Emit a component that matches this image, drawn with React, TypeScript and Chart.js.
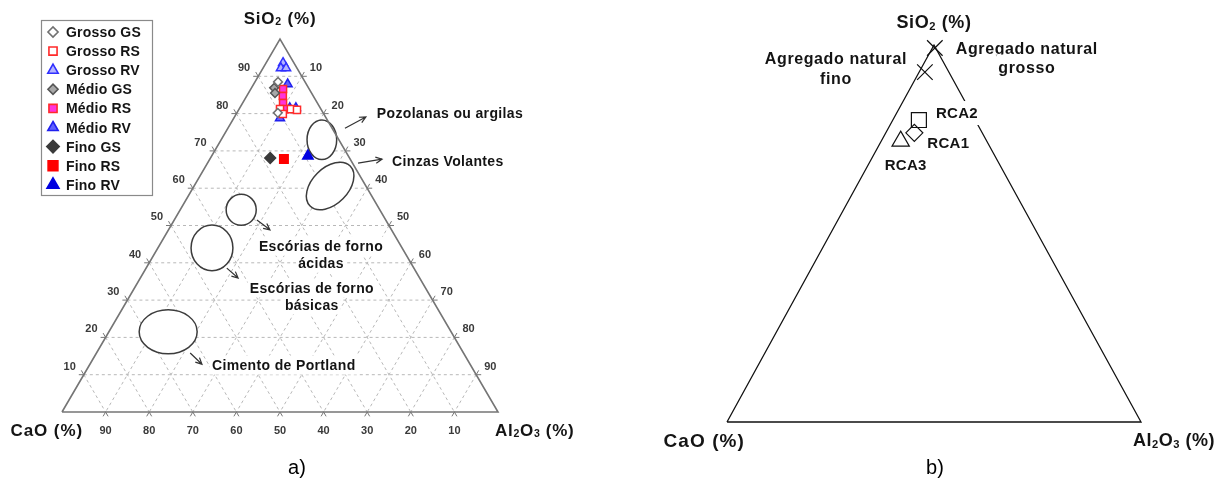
import React, { useEffect, useRef } from "react";
import { Chart, registerables } from "chart.js";
import { drawPoint } from "chart.js/helpers";

Chart.register(...registerables);

type Comp = [number, number, number]; // [SiO2, CaO, Al2O3] in %

// ================= a) =================
const tickValues = [10, 20, 30, 40, 50, 60, 70, 80, 90];
const outline: Comp[] = [[0, 100, 0], [0, 0, 100], [100, 0, 0], [0, 100, 0]];

const seriesNamesA = ["Grosso GS", "Grosso RS", "Grosso RV", "Médio GS", "Médio RS", "Médio RV", "Fino GS", "Fino RS", "Fino RV"];
const grossoGS: Comp[] = [[88.5, 6.2, 5.3], [80.2, 10.4, 9.4]];
const grossoRS: Comp[] = [[81.2, 9.4, 9.4], [81.2, 6.9, 11.9], [81.0, 5.6, 13.4], [79.9, 9.4, 10.7]];
const grossoRV: Comp[] = [[93.6, 2.5, 3.9], [92.2, 3.7, 4.1], [92.2, 2.5, 5.3]];
const medioGS: Comp[] = [[86.9, 7.9, 5.2], [85.5, 8.4, 6.1]];
const medioRS: Comp[] = [[86.6, 6.0, 7.4], [84.7, 7.0, 8.3], [82.8, 7.9, 9.3], [81.2, 8.3, 10.5]];
const medioRV: Comp[] = [[87.9, 4.3, 7.8], [81.5, 7.0, 11.5], [81.5, 5.6, 12.9], [78.8, 10.6, 10.6]];
const finoGS: Comp[] = [[68.1, 18.2, 13.7]];
const finoRS: Comp[] = [[67.8, 15.2, 17.0]];
const finoRV: Comp[] = [[68.6, 9.3, 22.1]];
const seriesDataA = [grossoGS, grossoRS, grossoRV, medioGS, medioRS, medioRV, finoGS, finoRS, finoRV];

const regionNames = [["Pozolanas ou argilas"], ["Cinzas Volantes"], ["Escórias de forno", "ácidas"], ["Escórias de forno", "básicas"], ["Cimento de Portland"]];
const regionCentres: Comp[] = [[73.0, 3.9, 23.1], [60.6, 8.2, 31.2], [54.2, 31.8, 14.0], [44.0, 43.6, 12.4], [21.5, 64.9, 13.6]];
const regionRadii = [[3.4, 4.6], [6.5, 4.2], [3.45, 3.6], [4.8, 5.3], [6.65, 5.1]];
const regionTiltDeg = [0, -45, 0, 0, 0];

// ================= b) =================
const pointNamesB = [["Agregado natural", "grosso"], ["Agregado natural", "fino"], ["RCA2"], ["RCA1"], ["RCA3"]];
const pointsB: Comp[] = [[99.2, 0.2, 0.6], [92.8, 5.8, 1.4], [80.1, 13.6, 6.3], [76.7, 16.4, 6.9], [74.5, 20.8, 4.7]];

// ================= styles / layout =================
const styleA = [
  { shape: "rectRot", fill: "#ffffff", line: "#707070", r: 4.4 },
  { shape: "rect", fill: "#ffffff", line: "#ff2a2a", r: 5 },
  { shape: "triangle", fill: "#b4b4ff", line: "#2f2fff", r: 5.2 },
  { shape: "rectRot", fill: "#a8a8a8", line: "#555555", r: 4.4 },
  { shape: "rect", fill: "#ff33dd", line: "#ff2a2a", r: 5 },
  { shape: "triangle", fill: "#6060ff", line: "#2020ee", r: 5.2 },
  { shape: "rectRot", fill: "#3a3a3a", line: "#3a3a3a", r: 5.4 },
  { shape: "rect", fill: "#ff0000", line: "#ff0000", r: 6 },
  { shape: "triangle", fill: "#0000e0", line: "#0000e0", r: 6 },
];
const legendMarkerScale = 1.15;
const regionLabelAt = [
  { x: 72.2, y: 69.4, align: "left" },
  { x: 75.7, y: 58.3, align: "left" },
  { x: 59.4, y: 38.5, align: "center" },
  { x: 57.3, y: 28.8, align: "center" },
  { x: 34.4, y: 10.9, align: "left" },
];
const regionArrows = [
  [64.9, 65.9, 69.7, 68.5],
  [67.9, 57.8, 73.4, 58.7],
  [44.7, 44.6, 47.7, 42.3],
  [37.8, 33.4, 40.4, 31.1],
  [29.4, 13.7, 32.1, 11.1],
];
const styleB = [
  { shape: "crossRot", r: 11 },
  { shape: "crossRot", r: 11 },
  { shape: "rect", r: 10.6 },
  { shape: "rectRot", r: 8.5 },
  { shape: "triangle", r: 10 },
];
const labelOffsetB = [
  { dx: 92, dy: 0, align: "center", lh: 19, size: 16, sp: 0.6 },
  { dx: -89, dy: -14, align: "center", lh: 20, size: 16, sp: 0.6 },
  { dx: 17, dy: -7, align: "left", lh: 18, size: 15, sp: 0.3 },
  { dx: 13, dy: 10, align: "left", lh: 18, size: 15, sp: 0.3 },
  { dx: -16, dy: 23, align: "left", lh: 18, size: 15, sp: 0.3 },
];

const SQ = Math.sqrt(3) / 2;
const toXY = (c: Comp) => ({ x: c[2] + c[0] / 2, y: c[0] * SQ });
const FAM = '"Liberation Sans", Arial, Helvetica, sans-serif';

type TextOpts = { size: number; bold?: boolean; align?: string; spacing?: number; color?: string; bg?: boolean; padX?: number; padY?: number };

function drawText(ctx: CanvasRenderingContext2D, text: string, x: number, y: number, o: TextOpts) {
  const segs: { t: string; sub: boolean }[] = [];
  for (let i = 0; i < text.length; i++) {
    if (text[i] === "_" && i + 1 < text.length) {
      segs.push({ t: text[i + 1], sub: true });
      i++;
    } else {
      const last = segs[segs.length - 1];
      if (last && !last.sub) last.t += text[i];
      else segs.push({ t: text[i], sub: false });
    }
  }
  const f = (sz: number) => `${o.bold ? "bold " : ""}${sz}px ${FAM}`;
  (ctx as any).letterSpacing = `${o.spacing || 0}px`;
  const ws = segs.map((s) => {
    ctx.font = f(s.sub ? o.size * 0.62 : o.size);
    return ctx.measureText(s.t).width;
  });
  const total = ws.reduce((a, b) => a + b, 0);
  let x0 = o.align === "center" ? x - total / 2 : o.align === "right" ? x - total : x;
  if (o.bg) {
    const px = o.padX ?? 2;
    const py = o.padY ?? 4;
    ctx.fillStyle = "#ffffff";
    ctx.fillRect(x0 - px, y - o.size / 2 - py, total + 2 * px, o.size + 2 * py);
  }
  ctx.fillStyle = o.color || "#141414";
  ctx.textAlign = "left";
  ctx.textBaseline = "alphabetic";
  const base = y + o.size * 0.36;
  segs.forEach((s, i) => {
    ctx.font = f(s.sub ? o.size * 0.62 : o.size);
    ctx.fillText(s.t, x0, s.sub ? base + o.size * 0.08 : base);
    x0 += ws[i];
  });
  (ctx as any).letterSpacing = "0px";
}

function arrow(ctx: CanvasRenderingContext2D, x1: number, y1: number, x2: number, y2: number) {
  const ang = Math.atan2(y2 - y1, x2 - x1);
  ctx.beginPath();
  ctx.moveTo(x1, y1);
  ctx.lineTo(x2, y2);
  const h = 7;
  ctx.moveTo(x2 - h * Math.cos(ang - 0.45), y2 - h * Math.sin(ang - 0.45));
  ctx.lineTo(x2, y2);
  ctx.lineTo(x2 - h * Math.cos(ang + 0.45), y2 - h * Math.sin(ang + 0.45));
  ctx.stroke();
}

const pixOf = (chart: any) => (c: Comp) => {
  const p = toXY(c);
  return [chart.scales.x.getPixelForValue(p.x), chart.scales.y.getPixelForValue(p.y)];
};
const pixXY = (chart: any, x: number, y: number) => [chart.scales.x.getPixelForValue(x), chart.scales.y.getPixelForValue(y)];

const pluginA = {
  id: "ternaryA",
  beforeDatasetsDraw(chart: any) {
    const ctx: CanvasRenderingContext2D = chart.ctx;
    const P = pixOf(chart);
    ctx.save();
    ctx.strokeStyle = "#b8b8b8";
    ctx.lineWidth = 1;
    ctx.setLineDash([3, 3]);
    for (const v of tickValues) {
      const lines: [Comp, Comp][] = [
        [[v, 100 - v, 0], [v, 0, 100 - v]],
        [[100 - v, v, 0], [0, v, 100 - v]],
        [[100 - v, 0, v], [0, 100 - v, v]],
      ];
      for (const [a, b] of lines) {
        const p = P(a), q = P(b);
        ctx.beginPath();
        ctx.moveTo(p[0], p[1]);
        ctx.lineTo(q[0], q[1]);
        ctx.stroke();
      }
    }
    ctx.setLineDash([]);
    const sx = chart.scales.x, sy = chart.scales.y;
    regionCentres.forEach((c, i) => {
      const [cx, cy] = P(c);
      const rx = Math.abs(sx.getPixelForValue(regionRadii[i][0]) - sx.getPixelForValue(0));
      const ry = Math.abs(sy.getPixelForValue(regionRadii[i][1]) - sy.getPixelForValue(0));
      ctx.beginPath();
      ctx.ellipse(cx, cy, rx, ry, (regionTiltDeg[i] * Math.PI) / 180, 0, Math.PI * 2);
      ctx.fillStyle = "#ffffff";
      ctx.fill();
      ctx.strokeStyle = "#3c3c3c";
      ctx.lineWidth = 1.5;
      ctx.stroke();
    });
    ctx.restore();
  },
  afterDatasetsDraw(chart: any) {
    const ctx: CanvasRenderingContext2D = chart.ctx;
    const P = pixOf(chart);
    const area = chart.chartArea;
    ctx.save();
    ctx.strokeStyle = "#777777";
    ctx.lineWidth = 1;
    const L = 5;
    const tick = (p: number[], dirs: number[][]) => {
      for (const d of dirs) {
        ctx.beginPath();
        ctx.moveTo(p[0], p[1]);
        ctx.lineTo(p[0] + d[0] * L, p[1] + d[1] * L);
        ctx.stroke();
      }
    };
    for (const v of tickValues) {
      const pl = P([v, 100 - v, 0]);
      tick(pl, [[-1, 0], [-0.5, -SQ]]);
      drawText(ctx, String(v), pl[0] - 8, pl[1] - 9, { size: 11, bold: true, align: "right", color: "#3a3a3a" });
      const pb = P([0, v, 100 - v]);
      tick(pb, [[-0.5, SQ], [0.5, SQ]]);
      drawText(ctx, String(v), pb[0], pb[1] + 18, { size: 11, bold: true, align: "center", color: "#3a3a3a" });
      const pr = P([100 - v, 0, v]);
      tick(pr, [[1, 0], [0.5, -SQ]]);
      drawText(ctx, String(v), pr[0] + 8, pr[1] - 9, { size: 11, bold: true, align: "left", color: "#3a3a3a" });
    }
    regionNames.forEach((lines, i) => {
      const at = regionLabelAt[i];
      const [x, y] = pixXY(chart, at.x, at.y);
      lines.forEach((t, k) => {
        drawText(ctx, t, x, y + k * 17, { size: 14, bold: true, align: at.align, spacing: 0.35, bg: true, padX: 2, padY: 2.5 });
      });
    });
    ctx.strokeStyle = "#333333";
    ctx.lineWidth = 1.2;
    regionArrows.forEach((a) => {
      const p = pixXY(chart, a[0], a[1]);
      const q = pixXY(chart, a[2], a[3]);
      arrow(ctx, p[0], p[1], q[0], q[1]);
    });
    const top = P([100, 0, 0]);
    const lft = P([0, 100, 0]);
    const rgt = P([0, 0, 100]);
    drawText(ctx, "SiO_2 (%)", top[0], top[1] - 21, { size: 17, bold: true, align: "center", spacing: 0.8 });
    drawText(ctx, "CaO (%)", lft[0] + 21, lft[1] + 18, { size: 17, bold: true, align: "right", spacing: 0.9 });
    drawText(ctx, "Al_2O_3 (%)", rgt[0] - 3, rgt[1] + 18, { size: 17, bold: true, align: "left", spacing: 0.7 });
    drawText(ctx, "a)", (area.left + area.right) / 2 + 17, area.bottom + 55, { size: 20, align: "center", color: "#000" });
    // legend
    const bx = 41, by = 20, bw = 111, bh = 175;
    ctx.fillStyle = "#ffffff";
    ctx.fillRect(bx, by, bw, bh);
    ctx.strokeStyle = "#8a8a8a";
    ctx.lineWidth = 1.2;
    ctx.strokeRect(bx + 0.5, by + 0.5, bw, bh);
    const markers = chart.data.datasets.filter((d: any) => d.legendEntry);
    markers.forEach((d: any, i: number) => {
      const y = by + 12 + i * 19.1;
      ctx.fillStyle = d.backgroundColor;
      ctx.strokeStyle = d.borderColor;
      ctx.lineWidth = 1.6;
      drawPoint(ctx, { pointStyle: d.pointStyle, rotation: 0, radius: d.pointRadius * legendMarkerScale, borderWidth: 1.6 } as any, bx + 12, y);
      drawText(ctx, d.label, bx + 25, y, { size: 14, bold: true, align: "left", spacing: 0.2 });
    });
    ctx.restore();
  },
};

const pluginB = {
  id: "ternaryB",
  afterDatasetsDraw(chart: any) {
    const ctx: CanvasRenderingContext2D = chart.ctx;
    const P = pixOf(chart);
    const area = chart.chartArea;
    ctx.save();
    pointsB.forEach((c, i) => {
      const [x, y] = P(c);
      const o = labelOffsetB[i];
      pointNamesB[i].forEach((t, k) => {
        drawText(ctx, t, x + o.dx, y + o.dy + k * o.lh, { size: o.size, bold: true, align: o.align, spacing: o.sp, bg: true, padX: 2, padY: 4.5 });
      });
    });
    const top = P([100, 0, 0]);
    const lft = P([0, 100, 0]);
    const rgt = P([0, 0, 100]);
    drawText(ctx, "SiO_2 (%)", top[0], top[1] - 23, { size: 18, bold: true, align: "center", spacing: 0.6 });
    drawText(ctx, "CaO (%)", lft[0] + 18, lft[1] + 18, { size: 19, bold: true, align: "right", spacing: 1.1 });
    drawText(ctx, "Al_2O_3 (%)", rgt[0] - 8, rgt[1] + 18, { size: 18, bold: true, align: "left", spacing: 0.5 });
    drawText(ctx, "b)", (area.left + area.right) / 2 + 1, area.bottom + 45, { size: 20, align: "center", color: "#000" });
    ctx.restore();
  },
};

const baseOptions = (pad: any) => ({
  animation: false as const,
  responsive: false,
  events: [] as any[],
  layout: { padding: pad },
  scales: {
    x: { type: "linear" as const, min: 0, max: 100, display: false },
    y: { type: "linear" as const, min: 0, max: 100 * SQ, display: false },
  },
  plugins: { legend: { display: false }, tooltip: { enabled: false } },
});

export default function App() {
  const refA = useRef<HTMLCanvasElement>(null);
  const refB = useRef<HTMLCanvasElement>(null);

  useEffect(() => {
    const dsA: any[] = seriesDataA.map((data, i) => ({
      label: seriesNamesA[i],
      legendEntry: true,
      data: data.map(toXY),
      pointStyle: styleA[i].shape,
      pointRadius: styleA[i].r,
      backgroundColor: styleA[i].fill,
      borderColor: styleA[i].line,
      pointBorderWidth: 1.5,
      showLine: false,
      clip: false,
    }));
    dsA.push({
      label: "outline",
      data: outline.map(toXY),
      showLine: true,
      borderColor: "#757575",
      borderWidth: 1.6,
      pointRadius: 0,
      fill: false,
      order: 10,
      clip: false,
    });
    const chartA = new Chart(refA.current as HTMLCanvasElement, {
      type: "scatter",
      data: { datasets: dsA },
      options: baseOptions({ left: 62, right: 112, top: 39, bottom: 71 }) as any,
      plugins: [pluginA],
    });

    const dsB: any[] = pointsB.map((c, i) => ({
      label: pointNamesB[i].join(" "),
      data: [toXY(c)],
      pointStyle: styleB[i].shape,
      pointRadius: styleB[i].r,
      backgroundColor: "rgba(0,0,0,0)",
      borderColor: "#111111",
      pointBorderWidth: 1.2,
      showLine: false,
      clip: false,
    }));
    dsB.push({
      label: "outline",
      data: outline.map(toXY),
      showLine: true,
      borderColor: "#111111",
      borderWidth: 1.3,
      pointRadius: 0,
      fill: false,
      order: 10,
      clip: false,
    });
    const chartB = new Chart(refB.current as HTMLCanvasElement, {
      type: "scatter",
      data: { datasets: dsB },
      options: baseOptions({ left: 117, right: 78, top: 45, bottom: 61 }) as any,
      plugins: [pluginB],
    });
    return () => {
      chartA.destroy();
      chartB.destroy();
    };
  }, []);

  return (
    <div style={{ position: "fixed", left: 0, top: 0, width: 1219, height: 483, background: "#ffffff", display: "flex" }}>
      <canvas ref={refA} width={610} height={483} style={{ display: "block", width: 610, height: 483 }} />
      <canvas ref={refB} width={609} height={483} style={{ display: "block", width: 609, height: 483 }} />
    </div>
  );
}
